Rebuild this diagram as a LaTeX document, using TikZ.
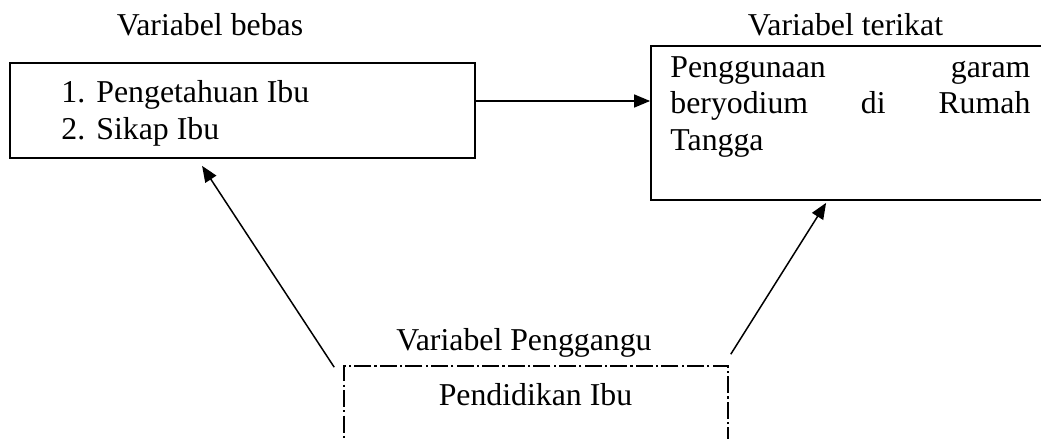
\documentclass[tikz,border=0pt]{standalone}
\usepackage{fontspec}
\setmainfont{Liberation Serif}
\usetikzlibrary{arrows.meta}
\begin{document}
\begin{tikzpicture}[x=0.5pt,y=-0.5pt,
  font=\fontsize{15.9}{19}\selectfont,
  box/.style={draw, line width=0.9pt, inner sep=0pt},
  dbox/.style={draw, line width=0.8pt, inner sep=0pt, dash pattern=on 8.5pt off 1.6pt on 1.1pt off 1.6pt},
  arr/.style={line width=0.75pt, -{Triangle[length=8pt,width=6.5pt]}},
  lbl/.style={anchor=base, inner sep=0pt},
  txt/.style={anchor=base west, inner sep=0pt}]
\clip (0,0) rectangle (1041,439);
\fill[white] (0,0) rectangle (1041,439);
% boxes
\node[box, minimum width=232.5pt, minimum height=47.5pt] (bebas) at (242.5,110.5) {};
\node[box, minimum width=204.5pt, minimum height=77pt] (terikat) at (855.5,123) {};
\node[dbox, minimum width=192pt, minimum height=52pt] (ganggu) at (536,418) {};
% labels
\node[lbl] (lbebas) at (210,35) {Variabel bebas};
\node[lbl] (lterikat) at (845.5,35) {Variabel terikat};
\node[lbl] (lganggu) at (524,350) {Variabel Penggangu};
% texts
\node[txt] (n1) at (61,103) {1.};
\node[txt] (t1) at (96,103) {Pengetahuan Ibu};
\node[txt] (n2) at (61,140) {2.};
\node[txt] (t2) at (96,140) {Sikap Ibu};
\node[txt] (r1) at (670,77) {\makebox[180pt][s]{Penggunaan\hfill garam}};
\node[txt] (r2) at (670,113.5) {\makebox[180pt][s]{beryodium\hfill di\hfill Rumah}};
\node[txt] (r3) at (670,150) {Tangga};
\node[lbl] (pend) at (535.5,405) {Pendidikan Ibu};
% connectors
\draw[arr] ([yshift=4.75pt]bebas.east) -- ([yshift=11pt]terikat.west);
\draw[arr] ([xshift=-4.5pt,yshift=-1pt]ganggu.north west) -- ([xshift=96.5pt,yshift=-3.5pt]bebas.south west);
\draw[arr] ([xshift=1pt,yshift=5.5pt]ganggu.north east) -- ([xshift=88pt,yshift=-1pt]terikat.south west);
\end{tikzpicture}
\end{document}
